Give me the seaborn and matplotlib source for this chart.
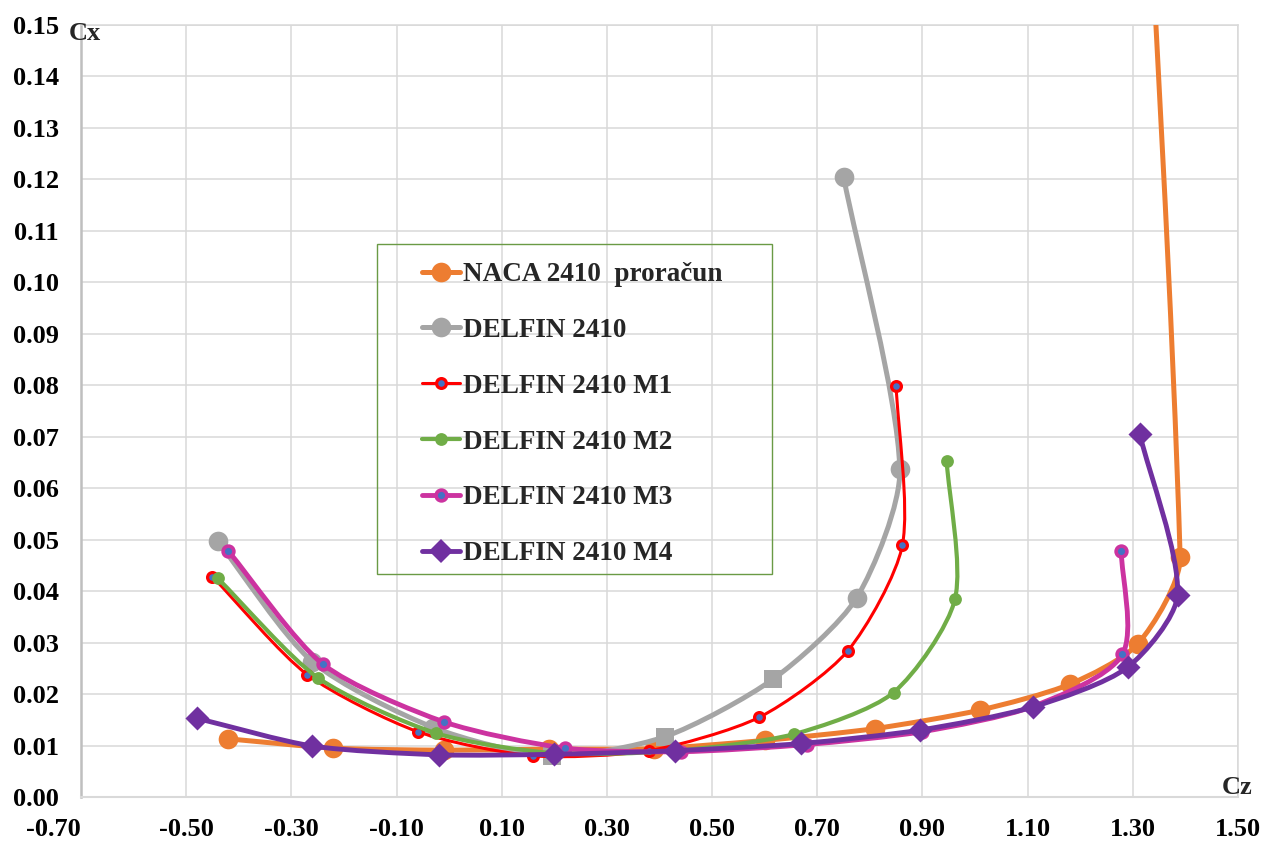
import numpy as np
import pandas as pd
import matplotlib
matplotlib.use("Agg")
import matplotlib.pyplot as plt
import seaborn as sns
from matplotlib.path import Path
from matplotlib.patches import PathPatch, Rectangle
from matplotlib.lines import Line2D
from matplotlib.ticker import FormatStrFormatter

# --- polar data (Cz, Cx) ---
naca_cz = [-0.42, -0.22, -0.01, 0.19, 0.39, 0.60, 0.81, 1.01, 1.18, 1.31, 1.39, 1.20]
naca_cx = [0.0113, 0.0095, 0.0091, 0.0093, 0.0094, 0.0110, 0.0133, 0.0169, 0.0219, 0.0298, 0.0466, 0.40]

delfin_cz = [-0.44, -0.26, -0.03, 0.195, 0.41, 0.616, 0.775, 0.857, 0.75]
delfin_cx = [0.0497, 0.0263, 0.0135, 0.0080, 0.0117, 0.0229, 0.0387, 0.0637, 0.1205]
delfin_markers = ["o", "o", "o", "s", "s", "s", "o", "o", "o"]

m1_cz = [-0.45, -0.27, -0.06, 0.16, 0.38, 0.59, 0.758, 0.862, 0.850]
m1_cx = [0.0428, 0.0238, 0.0127, 0.0080, 0.0090, 0.0155, 0.0284, 0.0490, 0.0798]

m2_cz = [-0.44, -0.25, -0.025, 0.20, 0.43, 0.655, 0.845, 0.962, 0.946]
m2_cx = [0.0425, 0.0232, 0.0124, 0.0085, 0.0090, 0.0122, 0.0203, 0.0385, 0.0653]

m3_cz = [-0.42, -0.24, -0.01, 0.22, 0.44, 0.68, 0.90, 1.11, 1.28, 1.278]
m3_cx = [0.0478, 0.0258, 0.0146, 0.0095, 0.0088, 0.0102, 0.0127, 0.0176, 0.0277, 0.0478]

m4_cz = [-0.48, -0.26, -0.02, 0.20, 0.43, 0.67, 0.895, 1.11, 1.29, 1.385, 1.313]
m4_cx = [0.0153, 0.0099, 0.0082, 0.0083, 0.0090, 0.0104, 0.0130, 0.0175, 0.0252, 0.0393, 0.0706]

series_labels = ["NACA 2410  proračun", "DELFIN 2410", "DELFIN 2410 M1",
                 "DELFIN 2410 M2", "DELFIN 2410 M3", "DELFIN 2410 M4"]

x_ticks = [-0.70, -0.50, -0.30, -0.10, 0.10, 0.30, 0.50, 0.70, 0.90, 1.10, 1.30, 1.50]
y_ticks = [0.00, 0.01, 0.02, 0.03, 0.04, 0.05, 0.06, 0.07, 0.08,
           0.09, 0.10, 0.11, 0.12, 0.13, 0.14, 0.15]

# --- styling per series ---
STYLES = [
    dict(color="#ED7D31", lw=3.6, marker="o", s=200, fc="#ED7D31", ec="#ED7D31", mew=0),
    dict(color="#A5A5A5", lw=3.6, marker="o", s=200, fc="#A5A5A5", ec="#A5A5A5", mew=0),
    dict(color="#FF0000", lw=2.2, marker="o", s=50, fc="#4472C4", ec="#FF0000", mew=2.3),
    dict(color="#70AD47", lw=3.0, marker="o", s=85, fc="#70AD47", ec="#70AD47", mew=0),
    dict(color="#CC33A0", lw=3.5, marker="o", s=60, fc="#4472C4", ec="#CC33A0", mew=2.6),
    dict(color="#7030A0", lw=3.5, marker="D", s=150, fc="#7030A0", ec="#7030A0", mew=0),
]

W, H = 1265, 844
AX_PX = (81, 25, 1238, 797)  # left, top, right, bottom in pixels
XLIM, YLIM = (-0.70, 1.50), (0.0, 0.15)
FONT = ["Liberation Serif", "DejaVu Serif"]

# pixels per data unit, used only to shape the smoothing handles
SX = (AX_PX[2] - AX_PX[0]) / (XLIM[1] - XLIM[0])
SY = (AX_PX[3] - AX_PX[1]) / (YLIM[1] - YLIM[0])


def smooth_path(xs, ys, k=0.25):
    """Excel-like smoothed line: cubic Bezier segments through the points."""
    pts = np.column_stack([np.asarray(xs) * SX, np.asarray(ys) * SY])
    n = len(pts)

    def tangent(i):
        d = pts[min(i + 1, n - 1)] - pts[max(i - 1, 0)]
        return d / np.hypot(*d)

    verts, codes = [pts[0]], [Path.MOVETO]
    for i in range(n - 1):
        p1, p2 = pts[i], pts[i + 1]
        L = np.hypot(*(p2 - p1))
        verts += [p1 + tangent(i) * L * k, p2 - tangent(i + 1) * L * k, p2]
        codes += [Path.CURVE4] * 3
    verts = np.array(verts) / [SX, SY]
    return Path(verts, codes)


sns.set_theme(style="white")
plt.rcParams["font.family"] = FONT
plt.rcParams["font.weight"] = "bold"

fig = plt.figure(figsize=(W / 100, H / 100), dpi=100)
ax = fig.add_axes([AX_PX[0] / W, (H - AX_PX[3]) / H,
                   (AX_PX[2] - AX_PX[0]) / W, (AX_PX[3] - AX_PX[1]) / H])

all_series = [
    (naca_cz, naca_cx, None),
    (delfin_cz, delfin_cx, delfin_markers),
    (m1_cz, m1_cx, None),
    (m2_cz, m2_cx, None),
    (m3_cz, m3_cx, None),
    (m4_cz, m4_cx, None),
]

for k, ((cz, cx, mk), st) in enumerate(zip(all_series, STYLES)):
    patch = PathPatch(smooth_path(cz, cx), facecolor="none", edgecolor=st["color"],
                      lw=st["lw"], capstyle="round", joinstyle="round", zorder=3 + 2 * k)
    ax.add_patch(patch)
    df = pd.DataFrame({"Cz": cz, "Cx": cx, "m": mk if mk else [st["marker"]] * len(cz)})
    for m, sub in df.groupby("m"):
        size = st["s"] if m != "s" else st["s"] * 0.85
        sns.scatterplot(data=sub, x="Cz", y="Cx", marker=m, s=size, color=st["fc"],
                        edgecolor=st["ec"], linewidth=st["mew"], zorder=4 + 2 * k,
                        legend=False, ax=ax)

ax.set_xlim(*XLIM)
ax.set_ylim(*YLIM)
ax.set_xticks(x_ticks)
ax.set_yticks(y_ticks)
ax.xaxis.set_major_formatter(FormatStrFormatter("%.2f"))
ax.yaxis.set_major_formatter(FormatStrFormatter("%.2f"))
ax.set_xlabel("")
ax.set_ylabel("")
ax.grid(True, color="#D9D9D9", linewidth=1.1)
ax.set_axisbelow(True)
ax.tick_params(axis="both", length=0, labelsize=19, colors="black")
ax.tick_params(axis="y", pad=16)
ax.tick_params(axis="x", pad=15)
for lbl in ax.get_xticklabels() + ax.get_yticklabels():
    lbl.set_fontweight("bold")
ax.get_xticklabels()[0].set_horizontalalignment("right")

for side in ["top", "right"]:
    ax.spines[side].set_color("#D9D9D9")
    ax.spines[side].set_linewidth(1.1)
ax.spines["left"].set_color("#BFBFBF")
ax.spines["left"].set_linewidth(1.8)
ax.spines["bottom"].set_color("#D9D9D9")
ax.spines["bottom"].set_linewidth(1.5)

# axis names
fig.text(69 / W, 1 - 40 / H, "Cx", fontsize=19, fontweight="bold", va="baseline")
fig.text(1222 / W, 1 - 794 / H, "Cz", fontsize=19, fontweight="bold", va="baseline")

# legend
handles = [
    Line2D([], [], color=st["color"], lw=st["lw"], marker=st["marker"],
           markersize=np.sqrt(st["s"]), markerfacecolor=st["fc"],
           markeredgecolor=st["ec"], markeredgewidth=st["mew"])
    for st in STYLES
]
leg = ax.legend(handles, series_labels, loc="upper left",
                bbox_to_anchor=(422 / W, 1 - 262 / H), bbox_transform=fig.transFigure,
                frameon=False, prop={"family": FONT, "weight": "bold", "size": 19.5},
                handlelength=1.4, handletextpad=0.1, labelspacing=1.14,
                borderpad=0, borderaxespad=0, numpoints=1)
leg.set_zorder(20)
fig.add_artist(Rectangle((377 / W, 1 - 574 / H), (772 - 377) / W, (574 - 244) / H,
                         transform=fig.transFigure, fill=False,
                         edgecolor="#6A9A45", lw=1.0, zorder=20))

fig.savefig("out.png", dpi=100)
